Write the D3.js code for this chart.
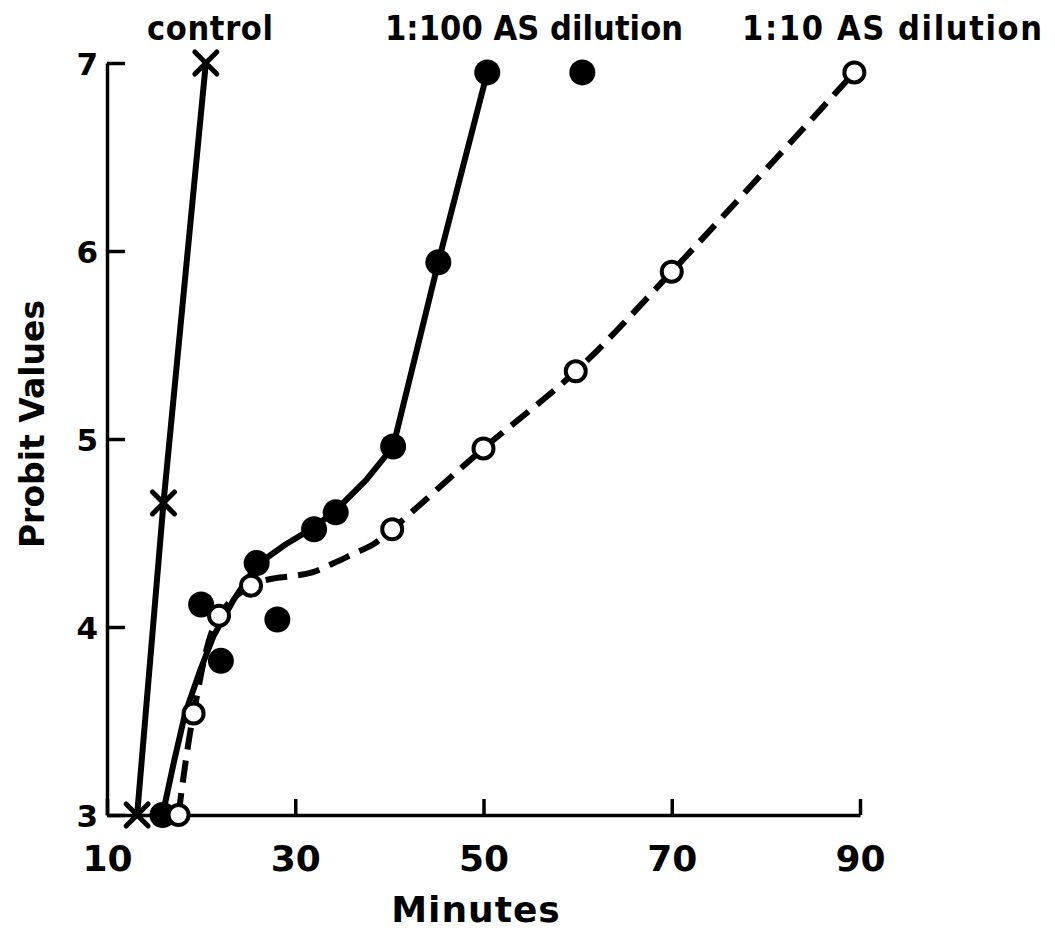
<!DOCTYPE html>
<html>
<head>
<meta charset="utf-8">
<script src="https://cdn.jsdelivr.net/npm/d3@7"></script>
<style>
  body { margin: 0; background: #fff; }
  svg text { font-family: "DejaVu Sans", sans-serif; font-weight: bold; fill: #000; }
  svg text.series { font-family: "DejaVu Sans Condensed", "DejaVu Sans", sans-serif; }
</style>
</head>
<body>
<svg id="chart" width="1055" height="945"></svg>
<script>
// values (minutes, probit)
const controlMinutes = [13.2, 16.0, 20.5];
const controlProbit = [3.0, 4.66, 7.0];

const as100Minutes = [15.9, 20.0, 22.1, 25.9, 28.1, 32.0, 34.3, 40.4, 45.2, 50.4, 60.5];
const as100Probit = [3.0, 4.12, 3.82, 4.34, 4.04, 4.52, 4.61, 4.96, 5.94, 6.95, 6.95];
// hand-drawn fit through the 1:100 points
const as100CurveMinutes = [15.9, 17.1, 18.3, 19.9, 21.3, 23.4, 25.9, 29.0, 32.0, 34.3, 37.5, 40.4, 45.2, 50.4];
const as100CurveProbit = [3.0, 3.28, 3.54, 3.77, 3.95, 4.14, 4.33, 4.44, 4.53, 4.62, 4.78, 4.96, 5.94, 6.95];

const as10Minutes = [17.6, 19.2, 21.9, 25.3, 40.3, 50.0, 59.8, 70.0, 89.4];
const as10Probit = [3.0, 3.54, 4.06, 4.22, 4.52, 4.95, 5.36, 5.89, 6.95];
// dashed fit for 1:10
const as10CurveMinutes = [17.6, 19.2, 21.9, 25.3, 27.9, 29.6, 31.8, 34.1, 36.2, 38.3, 40.3, 50.0, 59.8, 70.0, 89.4];
const as10CurveProbit = [3.0, 3.54, 4.06, 4.22, 4.26, 4.27, 4.29, 4.34, 4.39, 4.44, 4.52, 4.95, 5.36, 5.89, 6.95];

const xTicks = [10, 30, 50, 70, 90];
const yTicks = [3, 4, 5, 6, 7];
const seriesLabels = ["control", "1:100 AS dilution", "1:10 AS dilution"];

const zip = (xs, ys) => xs.map((d, i) => ({ m: d, p: ys[i] }));

const svg = d3.select("#chart");

const x = d3.scaleLinear().domain([10, 90]).range([107, 860]);
const y = d3.scaleLinear().domain([3, 7]).range([815, 63]);

// axes
const xAxis = svg
  .append("g")
  .attr("transform", "translate(0," + y(3) + ")")
  .call(d3.axisBottom(x).tickValues(xTicks).tickSizeInner(-16).tickSizeOuter(0).tickPadding(30));
const yAxis = svg
  .append("g")
  .attr("transform", "translate(" + x(10) + ",0)")
  .call(
    d3.axisLeft(y).tickValues(yTicks).tickFormat(d3.format("d"))
      .tickSizeInner(-18).tickSizeOuter(0).tickPadding(9)
  );

[xAxis, yAxis].forEach((g) => {
  g.attr("font-family", null).attr("font-size", null);
  g.select(".domain").attr("stroke", "#000").attr("stroke-width", 3.5);
  g.selectAll(".tick line").attr("stroke", "#000").attr("stroke-width", 3.5);
});
xAxis.selectAll(".tick text").style("font-size", "36px");
yAxis.selectAll(".tick text").style("font-size", "31px").attr("dy", "0.38em");

// axis titles
svg
  .append("text")
  .attr("x", 476)
  .attr("y", 922)
  .attr("text-anchor", "middle")
  .style("font-size", "36px")
  .style("letter-spacing", "1px")
  .text("Minutes");

svg
  .append("text")
  .attr("transform", "translate(44,424) rotate(-90)")
  .attr("text-anchor", "middle")
  .style("font-size", "33px")
  .text("Probit Values");

// series labels across the top
const labelX = [147, 385, 742];
const labelW = [126, 298, 300];
svg
  .selectAll("text.series")
  .data(seriesLabels)
  .enter()
  .append("text")
  .attr("class", "series")
  .attr("x", (d, i) => labelX[i])
  .attr("y", 40)
  .attr("textLength", (d, i) => labelW[i])
  .attr("lengthAdjust", "spacing")
  .style("font-size", "34px")
  .text((d) => d);

// lines
const line = d3
  .line()
  .x((d) => x(d.m))
  .y((d) => y(d.p));

svg
  .append("path")
  .datum(zip(controlMinutes, controlProbit))
  .attr("fill", "none")
  .attr("stroke", "#000")
  .attr("stroke-width", 6)
  .attr("d", line);

svg
  .append("path")
  .datum(zip(as100CurveMinutes, as100CurveProbit))
  .attr("fill", "none")
  .attr("stroke", "#000")
  .attr("stroke-width", 6)
  .attr("stroke-linejoin", "round")
  .attr("d", line);

svg
  .append("path")
  .datum(zip(as10CurveMinutes, as10CurveProbit))
  .attr("fill", "none")
  .attr("stroke", "#000")
  .attr("stroke-width", 6)
  .attr("stroke-dasharray", "22,11")
  .attr("d", line.curve(d3.curveCatmullRom.alpha(0.5)));

// markers
const s = 11;
svg
  .append("g")
  .selectAll("path")
  .data(zip(controlMinutes, controlProbit))
  .enter()
  .append("path")
  .attr("d", (d) => {
    const cx = x(d.m), cy = y(d.p);
    return "M" + (cx - s) + "," + (cy - s) + "L" + (cx + s) + "," + (cy + s) +
      "M" + (cx - s) + "," + (cy + s) + "L" + (cx + s) + "," + (cy - s);
  })
  .attr("stroke", "#000")
  .attr("stroke-width", 5)
  .attr("stroke-linecap", "round");

svg
  .append("g")
  .selectAll("circle")
  .data(zip(as100Minutes, as100Probit))
  .enter()
  .append("circle")
  .attr("cx", (d) => x(d.m))
  .attr("cy", (d) => y(d.p))
  .attr("r", 13)
  .attr("fill", "#000");

svg
  .append("g")
  .selectAll("circle")
  .data(zip(as10Minutes, as10Probit))
  .enter()
  .append("circle")
  .attr("cx", (d) => x(d.m))
  .attr("cy", (d) => y(d.p))
  .attr("r", 10)
  .attr("fill", "#fff")
  .attr("stroke", "#000")
  .attr("stroke-width", 4);
</script>
</body>
</html>
